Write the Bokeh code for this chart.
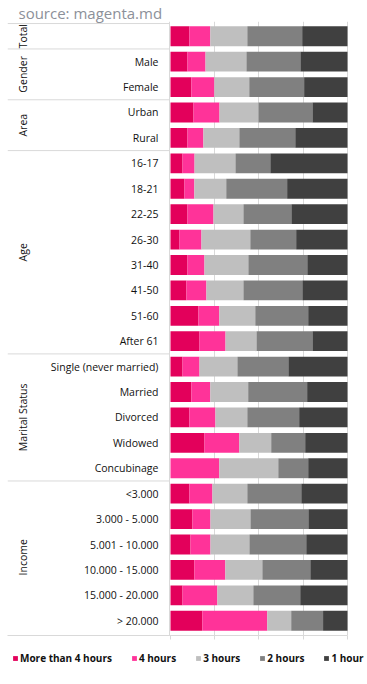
import math
from bokeh.plotting import figure
from bokeh.layouts import column
from bokeh.models import (ColumnDataSource, FactorRange, Range1d, FixedTicker, Legend,
                          LegendItem, Span)
from bokeh.core.properties import value
from bokeh.embed import file_html
from bokeh.resources import INLINE

# ---- data (top to bottom) ----
rows = ["Total", "Male", "Female", "Urban", "Rural",
        "16-17", "18-21", "22-25", "26-30", "31-40", "41-50", "51-60", "After 61",
        "Single (never married)", "Married", "Divorced", "Widowed", "Concubinage",
        "<3.000", "3.000 - 5.000", "5.001 - 10.000", "10.000 - 15.000", "15.000 - 20.000", "> 20.000"]
row_labels = ["", "Male", "Female", "Urban", "Rural",
              "16-17", "18-21", "22-25", "26-30", "31-40", "41-50", "51-60", "After 61",
              "Single (never married)", "Married", "Divorced", "Widowed", "Concubinage",
              "<3.000", "3.000 - 5.000", "5.001 - 10.000", "10.000 - 15.000", "15.000 - 20.000", "> 20.000"]
groups = ["Total", "Gender", "Area", "Age", "Marital Status", "Income"]
group_sizes = [1, 2, 2, 8, 5, 6]

series = ["More than 4 hours", "4 hours", "3 hours", "2 hours", "1 hour"]
more_than_4h = [10.7, 9.6, 11.8, 13.0, 9.6, 6.8, 7.9, 9.6, 5.1, 9.6, 9.0, 15.8, 16.4,
                6.8, 11.8, 10.7, 19.2, 0.0, 10.7, 12.4, 11.3, 13.5, 6.8, 18.0]
hours_4 = [11.8, 10.2, 13.0, 14.7, 9.0, 6.8, 5.6, 14.7, 12.4, 9.6, 11.3, 11.8, 14.7,
           9.6, 10.7, 14.7, 19.7, 27.6, 13.0, 10.2, 11.3, 17.5, 19.7, 36.7]
hours_3 = [20.9, 23.1, 19.7, 22.0, 20.3, 23.1, 18.0, 16.9, 27.6, 24.8, 20.9, 20.3, 17.5,
           21.4, 21.4, 18.0, 18.0, 33.3, 19.7, 22.6, 22.0, 20.9, 20.3, 13.5]
hours_2 = [31.0, 30.5, 31.0, 30.5, 31.6, 19.7, 34.4, 27.1, 25.9, 33.3, 33.3, 29.9, 31.6,
           28.8, 33.3, 29.3, 19.2, 16.9, 30.5, 32.7, 32.1, 27.1, 26.5, 18.0]
hours_1 = [25.6, 26.6, 24.5, 19.8, 29.5, 43.6, 34.1, 31.7, 29.0, 22.7, 25.5, 22.2, 19.8,
           33.4, 22.8, 27.3, 23.9, 22.2, 26.1, 22.1, 23.3, 21.0, 26.7, 13.8]
colors = ["#E3005B", "#FF3399", "#BFBFBF", "#808080", "#404040"]

keys = ["s0", "s1", "s2", "s3", "s4"]
source = ColumnDataSource(dict(row=rows, s0=more_than_4h, s1=hours_4, s2=hours_3,
                               s3=hours_2, s4=hours_1))

W = 367
x_start = -92.09
x_end = 111.3
p = figure(width=W, height=650, output_backend="svg", toolbar_location=None,
           y_range=FactorRange(factors=rows[::-1], factor_padding=0, range_padding=0.08,
                               range_padding_units="absolute"),
           x_range=Range1d(x_start, x_end),
           y_axis_location=None,
           min_border_left=7, min_border_right=0, min_border_top=21, min_border_bottom=15)
p.outline_line_color = None
p.background_fill_color = "white"

# title
p.title.text = "source: magenta.md"
p.title.text_font = "Open Sans"
p.title.text_font_size = "15px"
p.title.text_font_style = "normal"
p.title.text_color = "#8C9099"
p.title.standoff = -3
p.title.offset = 11

renderers = p.hbar_stack(keys, y="row", height=0.78, source=source,
                         fill_color=colors, line_color=None)

# grid and axis
p.ygrid.visible = False
p.xgrid.ticker = FixedTicker(ticks=[25, 50, 75, 100])
p.xgrid.grid_line_color = "#D9D9D9"
p.xaxis.ticker = FixedTicker(ticks=[0, 25, 50, 75, 100])
p.xaxis.bounds = (x_start, 100)
p.xaxis.major_label_overrides = {0: "", 25: "", 50: "", 75: "", 100: ""}
p.xaxis.major_label_text_font_size = "0px"
p.xaxis.major_label_standoff = 0
p.xaxis.major_tick_in = 0
p.xaxis.major_tick_out = 4
p.xaxis.minor_tick_line_color = None
p.xaxis.axis_line_color = "#D9D9D9"
p.xaxis.major_tick_line_color = "#D9D9D9"

p.add_layout(Span(location=-0.56, dimension="height", line_color="#D9D9D9", line_width=1))

# row labels
lab_src = ColumnDataSource(dict(y=rows[1:], t=row_labels[1:]))
p.text(x=-6.8, y="y", text="t", source=lab_src, text_align="right", text_baseline="middle",
       text_font=value("Open Sans"), text_font_size=value("10.5px"), text_color="#111111")

# group labels and separators
n = len(rows)
gy, bounds = [], [n]
top = n
for s in group_sizes:
    gy.append(top - s / 2)
    top -= s
    bounds.append(top)
grp_src = ColumnDataSource(dict(y=gy, t=groups))
p.text(x=-83.6, y="y", text="t", source=grp_src, angle=math.pi / 2, text_align="center",
       text_baseline="middle", text_font=value("Open Sans"), text_font_size=value("10.5px"),
       text_color="#111111")
sep_b = bounds[:-1]
p.segment(x0=[x_start] * len(sep_b), x1=[-0.56] * len(sep_b), y0=sep_b, y1=sep_b,
          line_color="#D9D9D9", line_width=1)

# legend strip below the chart (swatch renderers sit outside the visible range)
q = figure(width=W, height=34, output_backend="svg", toolbar_location=None,
           x_range=Range1d(0, 1), y_range=Range1d(0, 1),
           x_axis_location=None, y_axis_location=None,
           min_border_left=0, min_border_right=0, min_border_top=0, min_border_bottom=0)
q.outline_line_color = None
q.xgrid.visible = False
q.ygrid.visible = False
items = []
for s, c in zip(series, colors):
    r = q.hbar(y=[-5], left=[0], right=[1], height=0.5, fill_color=c, line_color=None)
    items.append(LegendItem(label=s, renderers=[r]))
legend = Legend(items=items, location=(5, 19), orientation="horizontal",
                glyph_width=6, glyph_height=6, label_standoff=2, spacing=19, padding=0,
                margin=0, border_line_color=None, background_fill_alpha=0,
                label_text_font="Open Sans", label_text_font_style="bold",
                label_text_font_size="10px", label_height=12, label_text_color="#111111")
q.add_layout(legend)

layout = column(p, q, spacing=0)
open("out.html", "w").write(file_html(layout, INLINE))
